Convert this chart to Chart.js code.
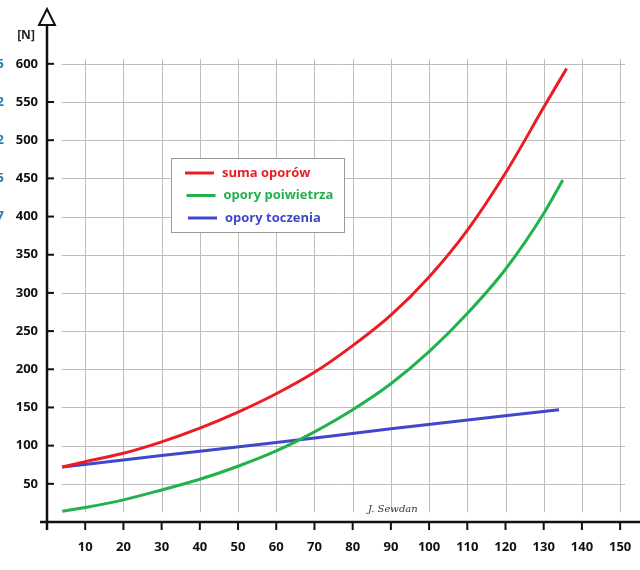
<!DOCTYPE html>
<html>
<head>
<meta charset="utf-8">
<script src="https://cdn.jsdelivr.net/npm/chart.js@4"></script>
<style>
  body { margin: 0; background: #fff; }
  #wrap { width: 640px; height: 570px; position: relative; }
</style>
</head>
<body>
<div id="wrap"><canvas id="chart"></canvas></div>
<script>
// speeds [km/h] and forces [N]
const speedsSum = [4, 10, 20, 30, 40, 50, 60, 70, 80, 90, 100, 110, 120, 130, 136];
const sumValues = [72, 79, 90, 105, 123, 144, 168, 196, 231, 271, 321, 382, 457, 543, 594];
const speedsAir = [4, 10, 20, 30, 40, 50, 60, 70, 80, 90, 100, 110, 120, 130, 135];
const airValues = [14, 19, 29, 42, 56, 73, 93, 118, 147, 181, 223, 273, 331, 404, 448];
const speedsRoll = [4, 30, 60, 90, 134];
const rollValues = [72, 87, 104, 122, 147];

const xTicks = [10, 20, 30, 40, 50, 60, 70, 80, 90, 100, 110, 120, 130, 140, 150];
const yTicks = [50, 100, 150, 200, 250, 300, 350, 400, 450, 500, 550, 600];
const sideTicks = ["5", "2", "2", "5", "7"]; // clipped blue labels on the left edge
const seriesLabels = ["suma oporów", "opory poiwietrza", "opory toczenia"];

const RED = "#ec1c24", GREEN = "#22b14c", BLUE = "#3f48cc";
const FONT = "'Open Sans', Lato, sans-serif";

const toPoints = (xs, ys) => xs.map((v, i) => ({ x: v, y: ys[i] }));

const drawingPlugin = {
  id: "drawing",
  beforeDatasetsDraw(chart) {
    const { ctx, scales: { x, y } } = chart;
    ctx.save();
    ctx.strokeStyle = "#bdbdbd";
    ctx.lineWidth = 1;
    // horizontal grid
    yTicks.forEach((v) => {
      const py = Math.round(y.getPixelForValue(v)) + 0.5;
      ctx.beginPath();
      ctx.moveTo(x.getPixelForValue(3.9), py);
      ctx.lineTo(x.getPixelForValue(151.3), py);
      ctx.stroke();
    });
    // vertical grid
    xTicks.forEach((v) => {
      const px = Math.round(x.getPixelForValue(v)) + 0.5;
      ctx.beginPath();
      ctx.moveTo(px, y.getPixelForValue(606));
      ctx.lineTo(px, y.getPixelForValue(13));
      ctx.stroke();
    });
    ctx.restore();
  },
  afterDraw(chart) {
    const { ctx, scales: { x, y } } = chart;
    const x0 = x.getPixelForValue(0);
    const y0 = y.getPixelForValue(0);
    ctx.save();
    ctx.strokeStyle = "#111";
    ctx.lineWidth = 2.5;
    // axes
    ctx.beginPath();
    ctx.moveTo(40, y0);
    ctx.lineTo(640, y0);
    ctx.moveTo(x0, y0 + 8);
    ctx.lineTo(x0, 24);
    ctx.stroke();
    // tick marks
    ctx.lineWidth = 2;
    xTicks.forEach((v) => {
      const px = x.getPixelForValue(v);
      ctx.beginPath();
      ctx.moveTo(px, y0);
      ctx.lineTo(px, y0 + 8);
      ctx.stroke();
    });
    yTicks.forEach((v) => {
      const py = y.getPixelForValue(v);
      ctx.beginPath();
      ctx.moveTo(x0, py);
      ctx.lineTo(x0 + 7, py);
      ctx.stroke();
    });
    // arrow head
    ctx.fillStyle = "#fff";
    ctx.lineWidth = 2;
    ctx.beginPath();
    ctx.moveTo(x0, 9);
    ctx.lineTo(x0 - 8, 25);
    ctx.lineTo(x0 + 8, 25);
    ctx.closePath();
    ctx.fill();
    ctx.stroke();
    // unit
    ctx.fillStyle = "#222";
    ctx.font = "bold 12px " + FONT;
    ctx.textAlign = "center";
    ctx.textBaseline = "middle";
    ctx.fillText("[N]", 26, 36);
    // clipped blue labels
    ctx.fillStyle = "#2a7fb0";
    ctx.font = "bold 13px " + FONT;
    ctx.textAlign = "right";
    sideTicks.forEach((t, i) => {
      ctx.fillText(t, 4, y.getPixelForValue(yTicks[yTicks.length - 1 - i]));
    });
    // signature
    ctx.fillStyle = "#333";
    ctx.font = "italic 10px 'DejaVu Serif', serif";
    ctx.textAlign = "left";
    ctx.fillText("J. Sewdan", 368, 509);
    // legend box
    ctx.fillStyle = "#fff";
    ctx.fillRect(171, 158, 173, 74);
    ctx.strokeStyle = "#9a9a9a";
    ctx.lineWidth = 1;
    ctx.strokeRect(171.5, 158.5, 173, 74);
    ctx.font = "bold 13px " + FONT;
    ctx.textBaseline = "middle";
    chart.data.datasets.forEach((ds, i) => {
      const ly = 173 + i * 22.5;
      const lx = 185 + i * 1.5;
      ctx.strokeStyle = ds.borderColor;
      ctx.lineWidth = 3;
      ctx.beginPath();
      ctx.moveTo(lx, ly);
      ctx.lineTo(lx + 29, ly);
      ctx.stroke();
      ctx.fillStyle = ds.borderColor;
      ctx.fillText(ds.label, lx + 37, ly);
    });
    ctx.restore();
  },
};

new Chart(document.getElementById("chart"), {
  type: "line",
  data: {
    datasets: [
      { label: seriesLabels[0], data: toPoints(speedsSum, sumValues), borderColor: RED },
      { label: seriesLabels[1], data: toPoints(speedsAir, airValues), borderColor: GREEN },
      { label: seriesLabels[2], data: toPoints(speedsRoll, rollValues), borderColor: BLUE },
    ],
  },
  options: {
    responsive: true,
    maintainAspectRatio: false,
    animation: false,
    layout: { padding: { left: 0, right: 0, top: 10, bottom: 0 } },
    elements: {
      line: { borderWidth: 3, cubicInterpolationMode: "monotone", fill: false },
      point: { radius: 0 },
    },
    plugins: { legend: { display: false }, tooltip: { enabled: false } },
    scales: {
      x: {
        type: "linear",
        min: 0,
        max: 155.2,
        border: { display: false },
        grid: { display: false, drawTicks: true, tickLength: 17 },
        afterBuildTicks: (s) => { s.ticks = xTicks.map((v) => ({ value: v })); },
        afterFit: (s) => { s.height = 48; },
        ticks: { padding: 0, color: "#111", font: { family: FONT, size: 13, weight: "bold" }, maxRotation: 0, autoSkip: false },
      },
      y: {
        min: 0,
        max: 670.5,
        border: { display: false },
        grid: { display: false, drawTicks: true, tickLength: 9 },
        afterBuildTicks: (s) => { s.ticks = yTicks.map((v) => ({ value: v })); },
        afterFit: (s) => { s.width = 47; },
        ticks: { padding: 0, color: "#111", font: { family: FONT, size: 13, weight: "bold" }, autoSkip: false },
      },
    },
  },
  plugins: [drawingPlugin],
});
</script>
</body>
</html>
